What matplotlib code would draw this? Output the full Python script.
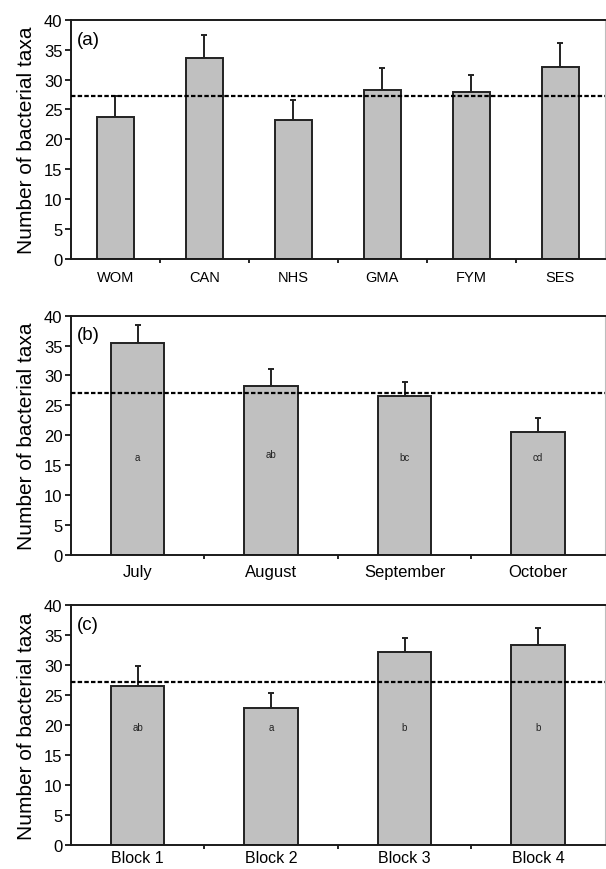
import numpy as np
import matplotlib.pyplot as plt

plt.rcParams['font.family'] = ['Liberation Sans', 'DejaVu Sans']

# panel (a) fertiliser treatments
treatments = ['WOM', 'CAN', 'NHS', 'GMA', 'FYM', 'SES']
treat_mean = [23.7, 33.6, 23.3, 28.3, 27.9, 32.2]
treat_top = [27.3, 37.4, 26.6, 32.0, 30.8, 36.1]
treat_overall = 27.3

# panel (b) sampling months
months = ['July', 'August', 'September', 'October']
month_mean = [35.4, 28.2, 26.5, 20.6]
month_top = [38.5, 31.0, 28.9, 22.9]
month_letters = ['a', 'ab', 'bc', 'cd']
month_letter_y = [16.3, 16.8, 16.3, 16.3]
month_overall = 27.0

# panel (c) field blocks
blocks = ['Block 1', 'Block 2', 'Block 3', 'Block 4']
block_mean = [26.5, 22.8, 32.2, 33.4]
block_top = [29.9, 25.4, 34.5, 36.1]
block_letters = ['ab', 'a', 'b', 'b']
block_letter_y = [19.6, 19.6, 19.6, 19.6]
block_overall = 27.1

fig = plt.figure(figsize=(6.06, 8.7), dpi=100)

# rect, tag, categories, means, error tops, letters, letter heights, overall mean, bar width, xlabel size, xlabel pad
panels = [
    ([0.117, 0.7015, 0.881, 0.2744], '(a)', treatments, treat_mean, treat_top, None, None, treat_overall, 0.41, 10.5, 8),
    ([0.117, 0.3613, 0.881, 0.2747], '(b)', months, month_mean, month_top, month_letters, month_letter_y, month_overall, 0.40, 12, 7),
    ([0.117, 0.0279, 0.881, 0.2755], '(c)', blocks, block_mean, block_top, block_letters, block_letter_y, block_overall, 0.40, 11.5, 4),
]

for rect, tag, cats, mean, top, letters, letter_y, overall, width, xfs, xpad in panels:
    ax = fig.add_axes(rect)
    x = np.arange(len(cats))
    mean = np.array(mean)
    err = np.array(top) - mean
    ax.errorbar(x, mean, yerr=[np.zeros_like(err), err], fmt='none',
                ecolor='#222222', elinewidth=1.4, capsize=2.5, capthick=1.4, zorder=1)
    ax.bar(x, mean, width=width, color='#c0c0c0', edgecolor='#222222',
           linewidth=1.4, zorder=2)
    ax.axhline(overall, color='black', linestyle=(0, (2.0, 1.0)), linewidth=1.6, zorder=4)
    if letters:
        for xi, lab, ly in zip(x, letters, letter_y):
            ax.text(xi, ly, lab, ha='center', va='center', fontsize=7, color='#222222', zorder=5)

    ax.set_xlim(-0.5, len(cats) - 0.5)
    ax.set_ylim(0, 40)
    ax.set_yticks(np.arange(0, 41, 5))
    ax.set_xticks(x)
    ax.set_xticklabels(cats, fontsize=xfs)
    ax.set_xticks(np.arange(0.5, len(cats) - 0.5, 1), minor=True)
    ax.tick_params(axis='x', which='major', length=0, pad=xpad)
    ax.tick_params(axis='x', which='minor', length=3, width=1.2, direction='out')
    ax.tick_params(axis='y', length=4, width=1.2, direction='out', labelsize=12, pad=2)
    for side in ['left', 'bottom', 'top']:
        ax.spines[side].set_linewidth(1.4)
        ax.spines[side].set_color('#1a1a1a')
    ax.spines['right'].set_color('#bdbdbd')
    ax.spines['right'].set_linewidth(0.8)
    ax.set_ylabel('Number of bacterial taxa', fontsize=15, labelpad=6)
    ax.text(0.012, 0.955, tag, transform=ax.transAxes, fontsize=13.5, ha='left', va='top')

fig.savefig('out.png', dpi=100)
